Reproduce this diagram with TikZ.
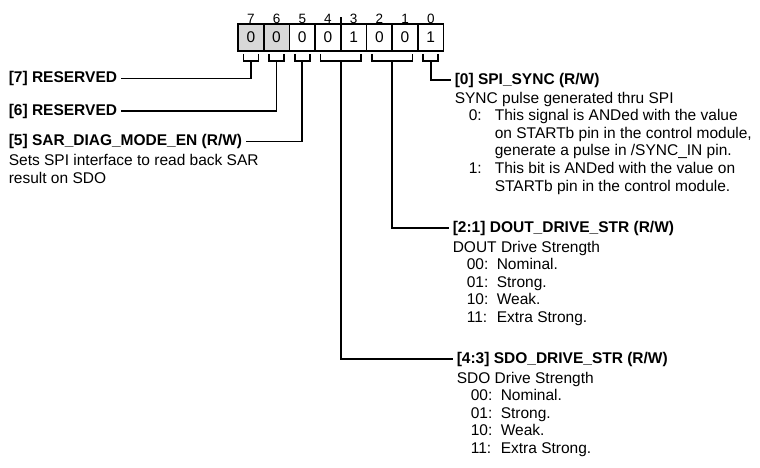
\documentclass[tikz,border=0pt]{standalone}
\usepackage{fontspec}
\setmainfont{Liberation Sans}
\usetikzlibrary{calc}
\definecolor{rsvgray}{RGB}{216,216,216}
\newcommand{\fldval}[2][30pt]{\hspace*{14pt}\makebox[#1][l]{#2}}
\newcommand{\fldcont}{\hspace*{40pt}}

\begin{document}
\begin{tikzpicture}[x=1pt,y=1pt,every node/.style={font=\fontsize{15.5}{17.6}\selectfont},line width=1.6pt]
\tikzset{cell/.style={draw,fill=white,minimum width=25.7pt,minimum height=27pt,inner sep=0pt,outer sep=0pt,label distance=5pt},
  rsv/.style={cell,fill=rsvgray},
  bitno/.style={font=\fontsize{13.5}{15}\selectfont,inner sep=0pt},
  fld/.style={font=\fontsize{15.5}{17.6}\selectfont\bfseries,inner xsep=3pt,inner ysep=0pt,anchor=west},
  desc/.style={align=left,inner xsep=3pt,inner ysep=0pt,anchor=north west}}
\useasboundingbox (0,0) rectangle (760,-468);
% register cells
\node[rsv,label={[bitno]above:7}] (c7) at (250.85,-37.5) {0};
\node[rsv,label={[bitno]above:6}] (c6) at (276.55,-37.5) {0};
\node[cell,label={[bitno]above:5}] (c5) at (302.25,-37.5) {0};
\node[cell,label={[bitno]above:4}] (c4) at (327.95,-37.5) {0};
\node[cell,label={[bitno]above:3}] (c3) at (353.65,-37.5) {1};
\node[cell,label={[bitno]above:2}] (c2) at (379.35,-37.5) {0};
\node[cell,label={[bitno]above:1}] (c1) at (405.05,-37.5) {0};
\node[cell,label={[bitno]above:0}] (c0) at (430.75,-37.5) {1};
\draw (c4.north east) -- ++(0,7);
% brackets under the fields
\draw ($(c7.south)+(-7.5,-3)$) |- ($(c7.south)+(7.5,-10)$) -- ++(0,7);
\draw ($(c6.south)+(-7.5,-3)$) |- ($(c6.south)+(7.5,-10)$) -- ++(0,7);
\draw ($(c5.south)+(-7.5,-3)$) |- ($(c5.south)+(7.5,-10)$) -- ++(0,7);
\draw ($(c4.south)+(-7.5,-3)$) |- ($(c3.south)+(7.5,-10)$) -- ++(0,7);
\draw ($(c2.south)+(-7.5,-3)$) |- ($(c1.south)+(7.5,-10)$) -- ++(0,7);
\draw ($(c0.south)+(-7.5,-3)$) |- ($(c0.south)+(7.5,-10)$) -- ++(0,7);
\coordinate (k7) at ($(c7.south)+(0,-10)$);
\coordinate (k6) at ($(c6.south)+(0,-10)$);
\coordinate (k5) at ($(c5.south)+(0,-10)$);
\coordinate (k43) at ($(c4.south east)+(0,-10)$);
\coordinate (k21) at ($(c2.south east)+(0,-10)$);
\coordinate (k0) at ($(c0.south)+(0,-10)$);
% field names
\node[fld] (t7) at (5,-78.5) {[7] RESERVED};
\node[fld] (t6) at (5,-111) {[6] RESERVED};
\node[fld] (t5) at (5,-141.5) {[5] SAR\_DIAG\_MODE\_EN (R/W)};
\node[fld] (t0) at (451,-80) {[0] SPI\_SYNC (R/W)};
\node[fld] (t21) at (449,-228) {[2:1] DOUT\_DRIVE\_STR (R/W)};
\node[fld] (t43) at (453,-359) {[4:3] SDO\_DRIVE\_STR (R/W)};
\draw (k7) |- (t7.east);
\draw (k6) |- (t6.east);
\draw (k5) |- (t5.east);
\draw (k0) |- (t0.west);
\draw (k21) |- (t21.west);
\draw (k43) |- (t43.west);
% field descriptions
\node[desc] (d5) at ([yshift=-4pt]t5.south west) {Sets SPI interface to read back SAR\\result on SDO};
\node[desc] (d0) at ([yshift=-3pt]t0.south west) {SYNC pulse generated thru SPI\\
  \fldval[26pt]{0:}This signal is ANDed with the value\\
  \fldcont on STARTb pin in the control module,\\
  \fldcont generate a pulse in /SYNC\_IN pin.\\
  \fldval[26pt]{1:}This bit is ANDed with the value on\\
  \fldcont STARTb pin in the control module.};
\node[desc] (d21) at ([yshift=-4pt]t21.south west) {DOUT Drive Strength\\
  \fldval{00:}Nominal.\\ \fldval{01:}Strong.\\ \fldval{10:}Weak.\\ \fldval{11:}Extra Strong.};
\node[desc] (d43) at ([yshift=-4pt]t43.south west) {SDO Drive Strength\\
  \fldval{00:}Nominal.\\ \fldval{01:}Strong.\\ \fldval{10:}Weak.\\ \fldval{11:}Extra Strong.};
\end{tikzpicture}
\end{document}
